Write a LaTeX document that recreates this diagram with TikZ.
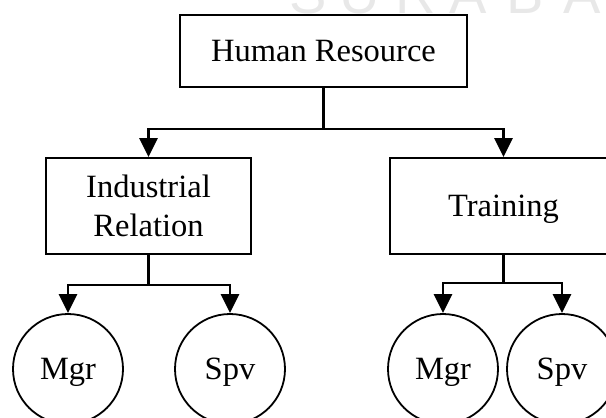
\documentclass[tikz,border=0pt]{standalone}
\usepackage{fontspec}
\setmainfont{Liberation Serif}
\newfontfamily\wmfont{Liberation Sans}
\usetikzlibrary{arrows.meta}

\tikzset{
  unitbox/.style={draw, line width=1.8pt, rectangle, inner sep=0pt,
    text height=21.2pt, text depth=0pt, align=center,
    font=\fontsize{32.5}{39}\selectfont},
  unitcircle/.style={draw, line width=1.8pt, circle, inner sep=0pt,
    minimum size=110pt, text height=21.2pt, text depth=0pt,
    font=\fontsize{32.5}{39}\selectfont},
  link/.style={line width=2.8pt},
  linkarrow/.style={line width=2.8pt, -{Triangle[width=18pt,length=19pt]}},
  wmark/.style={anchor=base, text=black!9, inner sep=0pt,
    font=\wmfont\fontsize{56}{60}\selectfont}
}

\begin{document}
\begin{tikzpicture}[x=1pt, y=-1pt]
  \useasboundingbox (0,0) rectangle (606,418);
  \clip (0,0) rectangle (606,418);

  % faint lettering along the top edge
  \foreach \ch/\xx [count=\i] in {S/308, U/360, R/416, A/468, B/525, A/582}
    \node[wmark] (wm\i) at (\xx,13) {\ch};

  % boxes
  \node[unitbox, minimum width=287pt, minimum height=72pt] (hr) at (323.5,51) {Human Resource};
  \node[unitbox, minimum width=205pt, minimum height=96pt, text height=60.2pt] (ir) at (148.5,206) {Industrial\\Relation};
  \node[unitbox, minimum width=227pt, minimum height=96pt] (tr) at (503.5,206) {Training};

  % staff circles
  \node[unitcircle] (irmgr) at (68,369) {Mgr};
  \node[unitcircle] (irspv) at (230,369) {Spv};
  \node[unitcircle] (trmgr) at (443,369) {Mgr};
  \node[unitcircle] (trspv) at (562,369) {Spv};

  % junction points
  \coordinate (hrj) at (hr.south |- 0,129);
  \coordinate (irj) at (ir.south |- 0,285);
  \coordinate (trj) at (tr.south |- 0,283);

  % connectors
  \draw[link] (hr.south) -- (hrj);
  \draw[linkarrow] (hrj) -| (ir.north);
  \draw[linkarrow] (hrj) -| (tr.north);

  \draw[link] (ir.south) -- (irj);
  \draw[linkarrow] (irj) -| (irmgr.north);
  \draw[linkarrow] (irj) -| (irspv.north);

  \draw[link] (tr.south) -- (trj);
  \draw[linkarrow] (trj) -| (trmgr.north);
  \draw[linkarrow] (trj) -| (trspv.north);
\end{tikzpicture}
\end{document}
